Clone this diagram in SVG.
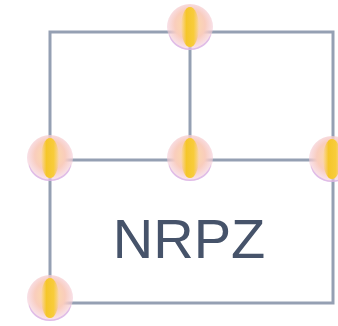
<svg xmlns="http://www.w3.org/2000/svg" width="338" height="326" viewBox="0 0 338 326">
<style>
.ln{stroke:#95a0b3;stroke-width:3;fill:none}
.lbl{font-family:"Liberation Sans",Arial,sans-serif;font-size:56px;fill:#46536a;text-anchor:middle}
</style>
<defs>
<radialGradient id="body" cx="0.5" cy="0.45" r="0.55">
<stop offset="0" stop-color="#fde0a0"/>
<stop offset="0.6" stop-color="#f9cdbd"/>
<stop offset="1" stop-color="#f3cde0" stop-opacity="0.5"/>
</radialGradient>
<linearGradient id="stripe" x1="0" y1="0" x2="1" y2="0">
<stop offset="0" stop-color="#f7c830" stop-opacity="0"/>
<stop offset="0.3" stop-color="#f5c62a"/>
<stop offset="0.7" stop-color="#f8cc3a"/>
<stop offset="1" stop-color="#f7c830" stop-opacity="0"/>
</linearGradient>
<g id="ball">
<circle r="23" fill="url(#body)"/>
<path d="M-21,6 A22,22 0 0 0 21,6 A21,17 0 0 1 -21,6Z" fill="#d9b3e6" opacity="0.8"/>
<ellipse rx="9" ry="20" fill="url(#stripe)"/>
</g>
</defs>
<g id="connectors">
<rect class="ln" x="50" y="32" width="283" height="271"/>
<line class="ln" x1="50" y1="160" x2="333" y2="160"/>
<line class="ln" x1="190" y1="32" x2="190" y2="160"/>
</g>
<g id="n-top"><use href="#ball" x="190" y="27"/></g>
<g id="n-left"><use href="#ball" x="50" y="158"/></g>
<g id="n-center"><use href="#ball" x="190" y="158"/></g>
<g id="n-right"><use href="#ball" x="332" y="159"/></g>
<g id="n-bottom"><use href="#ball" x="50" y="298"/></g>
<g id="label"><text class="lbl" x="189" y="258">NRPZ</text></g>
</svg>
